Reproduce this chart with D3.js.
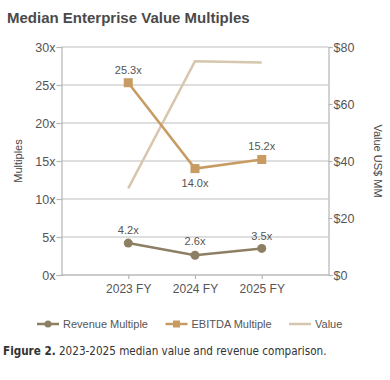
<!DOCTYPE html>
<html><head><meta charset="utf-8">
<script src="https://cdn.jsdelivr.net/npm/d3@7"></script>
<style>body{margin:0;background:#fff}svg{display:block}</style>
</head><body>
<svg id="c" width="390" height="380"></svg>
<script>
const categories = ["2023 FY", "2024 FY", "2025 FY"];
const revenueMultiple = [4.2, 2.6, 3.5];
const ebitdaMultiple = [25.3, 14.0, 15.2];
const valueMM = [30.4, 75.0, 74.6];
const leftTicks = [0, 5, 10, 15, 20, 25, 30];
const rightTicks = [0, 20, 40, 60, 80];
const seriesNames = ["Revenue Multiple", "EBITDA Multiple", "Value"];

const colRev = "#8d7f63", colEb = "#c79b61", colVal = "#d6c6ae";
const svg = d3.select("#c");
const font = "'Liberation Sans', Arial, sans-serif";
const L = 61.5, R = 328.5, T = 47, B = 275;

const x = d3.scalePoint().domain(categories).range([L, R]).padding(1);
const yL = d3.scaleLinear().domain([0, 30]).range([B, T]);
const yR = d3.scaleLinear().domain([0, 80]).range([B, T]);

svg.append("text").attr("x", 7).attr("y", 23).attr("font-family", font)
  .attr("font-weight", "bold").attr("font-size", 15).attr("fill", "#4a4a4a")
  .text("Median Enterprise Value Multiples");

// grid
svg.append("g").selectAll("line").data(leftTicks).join("line")
  .attr("x1", L).attr("x2", R).attr("y1", d => yL(d)).attr("y2", d => yL(d))
  .attr("stroke", "#bdbdbd").attr("stroke-width", 1.2);

// axes
const gl = svg.append("g").attr("transform", `translate(${L},0)`)
  .call(d3.axisLeft(yL).tickValues(leftTicks).tickFormat(d => d + "x").tickSize(5).tickPadding(1));
const gr = svg.append("g").attr("transform", `translate(${R},0)`)
  .call(d3.axisRight(yR).tickValues(rightTicks).tickFormat(d => "$" + d).tickSize(4).tickPadding(1));
const gb = svg.append("g").attr("transform", `translate(0,${B})`)
  .call(d3.axisBottom(x).tickSize(4).tickPadding(5));
[gl, gr, gb].forEach(g => {
  g.select(".domain").attr("stroke", "#b5b5b5").attr("stroke-width", 1.2);
  g.selectAll(".tick line").attr("stroke", "#b5b5b5").attr("stroke-width", 1.2);
  g.selectAll("text").attr("font-family", font).attr("font-size", 12.5).attr("fill", "#555");
});
gb.select(".domain").attr("d", `M${L},0H${R}`);
gb.selectAll("text").attr("font-size", 12);

svg.append("text").attr("transform", `translate(22,161) rotate(-90)`).attr("text-anchor", "middle")
  .attr("font-family", font).attr("font-size", 11).attr("fill", "#444").text("Multiples");
svg.append("text").attr("transform", `translate(374,161) rotate(90)`).attr("text-anchor", "middle")
  .attr("font-family", font).attr("font-size", 11).attr("fill", "#444").text("Value US$ MM");

// value line
svg.append("path").datum(valueMM).attr("fill", "none").attr("stroke", colVal).attr("stroke-width", 2.5)
  .attr("d", d3.line().x((d, i) => x(categories[i])).y(d => yR(d)));
// ebitda
svg.append("path").datum(ebitdaMultiple).attr("fill", "none").attr("stroke", colEb).attr("stroke-width", 2.5)
  .attr("d", d3.line().x((d, i) => x(categories[i])).y(d => yL(d)));
svg.append("g").selectAll("rect").data(ebitdaMultiple).join("rect")
  .attr("x", (d, i) => x(categories[i]) - 4.5).attr("y", d => yL(d) - 4.5)
  .attr("width", 9).attr("height", 9).attr("fill", colEb);
// revenue
svg.append("path").datum(revenueMultiple).attr("fill", "none").attr("stroke", colRev).attr("stroke-width", 2.5)
  .attr("d", d3.line().x((d, i) => x(categories[i])).y(d => yL(d)));
svg.append("g").selectAll("circle").data(revenueMultiple).join("circle")
  .attr("cx", (d, i) => x(categories[i])).attr("cy", d => yL(d)).attr("r", 4.5).attr("fill", colRev);

// labels
const ebOff = [-9, 18, -9], revOff = [-9, -10, -8];
svg.append("g").selectAll("text").data(ebitdaMultiple).join("text")
  .attr("x", (d, i) => x(categories[i])).attr("y", (d, i) => yL(d) + ebOff[i])
  .attr("text-anchor", "middle").attr("font-family", font).attr("font-size", 11).attr("fill", "#555")
  .text(d => d.toFixed(1) + "x");
svg.append("g").selectAll("text").data(revenueMultiple).join("text")
  .attr("x", (d, i) => x(categories[i])).attr("y", (d, i) => yL(d) + revOff[i])
  .attr("text-anchor", "middle").attr("font-family", font).attr("font-size", 11).attr("fill", "#555")
  .text(d => d.toFixed(1) + "x");

// legend
const legX = [37, 165.5, 289], cols = [colRev, colEb, colVal];
const lg = svg.append("g");
seriesNames.forEach((n, i) => {
  const g = lg.append("g").attr("transform", `translate(${legX[i]},324)`);
  g.append("line").attr("x1", 0).attr("x2", 22).attr("stroke", cols[i]).attr("stroke-width", 2.5);
  if (i === 0) g.append("circle").attr("cx", 11).attr("r", 3.5).attr("fill", cols[i]);
  if (i === 1) g.append("rect").attr("x", 7.5).attr("y", -3.5).attr("width", 7).attr("height", 7).attr("fill", cols[i]);
  g.append("text").attr("x", 26).attr("y", 4).attr("font-family", font).attr("font-size", 11)
    .attr("fill", "#555").text(n);
});

// caption
const cap = svg.append("text").attr("x", 3).attr("y", 355).attr("font-family", "'DejaVu Sans Condensed', 'DejaVu Sans', sans-serif")
  .attr("font-size", 11.6).attr("fill", "#333");
cap.append("tspan").attr("font-weight", "bold").text("Figure 2.");
cap.append("tspan").text(" 2023-2025 median value and revenue comparison.");
</script>
</body></html>
